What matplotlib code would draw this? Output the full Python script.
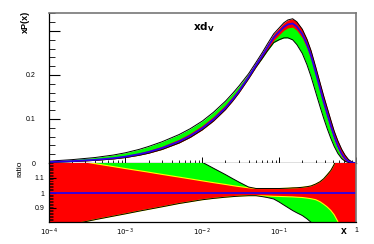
import matplotlib
matplotlib.use("Agg")
import matplotlib.pyplot as plt
import numpy as np
from matplotlib.ticker import LogLocator, MultipleLocator, NullFormatter

plt.rcParams['font.family'] = ['Liberation Sans', 'DejaVu Sans']

# x grid (momentum fraction)
x = [1e-4, 2e-4, 4e-4, 7e-4, 1e-3, 1.5e-3, 2e-3, 3e-3, 5e-3, 7e-3,
     0.01, 0.014, 0.02, 0.025, 0.03, 0.04, 0.05, 0.06, 0.07, 0.085,
     0.1, 0.115, 0.13, 0.15, 0.17, 0.2, 0.23, 0.26, 0.3, 0.34,
     0.38, 0.42, 0.47, 0.52, 0.58, 0.65, 0.72, 0.8, 0.9, 1.0]

# central xd_v
central = [0.0022, 0.0042, 0.0072, 0.011, 0.0145, 0.020, 0.025, 0.034, 0.049, 0.062,
           0.079, 0.099, 0.125, 0.145, 0.163, 0.195, 0.222, 0.243, 0.262, 0.285,
           0.298, 0.309, 0.315, 0.317, 0.310, 0.293, 0.270, 0.244, 0.205, 0.170,
           0.139, 0.113, 0.085, 0.061, 0.039, 0.021, 0.010, 0.0035, 0.0006, 0.0]

# red band, ratio to central
red_up = [1.245, 1.222, 1.196, 1.176, 1.163, 1.149, 1.139, 1.124, 1.106, 1.094,
          1.081, 1.069, 1.057, 1.049, 1.043, 1.035, 1.03, 1.03, 1.03, 1.03,
          1.03, 1.031, 1.032, 1.034, 1.035, 1.038, 1.042, 1.047, 1.06, 1.075,
          1.095, 1.12, 1.15, 1.19, 1.3, 1.5, 1.8, 2.2, 3.0, 3.0]
red_lo = [0.76, 0.79, 0.822, 0.846, 0.861, 0.879, 0.891, 0.908, 0.93, 0.942,
          0.955, 0.964, 0.972, 0.976, 0.979, 0.982, 0.982, 0.981, 0.98, 0.978,
          0.977, 0.976, 0.975, 0.974, 0.972, 0.97, 0.966, 0.962, 0.955, 0.942,
          0.925, 0.908, 0.884, 0.855, 0.81, 0.7, 0.55, 0.4, 0.2, 0.1]

# green band, ratio to central
green_up = [1.9, 1.8, 1.72, 1.65, 1.6, 1.54, 1.5, 1.42, 1.32, 1.26,
            1.205, 1.165, 1.123, 1.095, 1.073, 1.04, 1.015, 1.0, 0.993, 0.988,
            0.985, 0.983, 0.982, 0.981, 0.98, 0.978, 0.974, 0.97, 0.963, 0.95,
            0.935, 0.918, 0.895, 0.865, 0.82, 0.72, 0.57, 0.42, 0.22, 0.12]
green_lo = [0.764, 0.794, 0.826, 0.85, 0.865, 0.883, 0.895, 0.912, 0.934, 0.946,
            0.959, 0.968, 0.976, 0.98, 0.982, 0.984, 0.982, 0.976, 0.97, 0.96,
            0.94, 0.92, 0.903, 0.883, 0.868, 0.85, 0.828, 0.805, 0.78, 0.755,
            0.73, 0.7, 0.66, 0.62, 0.56, 0.48, 0.4, 0.3, 0.18, 0.1]

x = np.array(x)
c = np.array(central)
rup, rlo = np.array(red_up), np.array(red_lo)
gup, glo = np.array(green_up), np.array(green_lo)
env_up = np.maximum(rup, gup)
env_lo = np.minimum(rlo, glo)

RED = '#ff0000'
GREEN = '#00ff00'
BLUE = '#2a00e8'

fig = plt.figure(figsize=(3.74, 2.44), dpi=100)
W, H = 374, 244
L, R = 48.5, 356
ax = fig.add_axes([L / W, 1 - 163 / H, (R - L) / W, (163 - 12.5) / H])
axr = fig.add_axes([L / W, 1 - 221.5 / H, (R - L) / W, (221.5 - 163) / H])

# top panel
ax.fill_between(x, c * glo, c * gup, color=GREEN, lw=0)
ax.fill_between(x, c * rlo, c * rup, color=RED, lw=0)
ax.plot(x, c * env_up, color='black', lw=0.7)
ax.plot(x, c * env_lo, color='black', lw=0.7)
ax.plot(x, c, color=BLUE, lw=1.3)
ax.set_xscale('log')
ax.set_xlim(1e-4, 1)
ax.set_ylim(0, 0.342)

ax.yaxis.set_minor_locator(MultipleLocator(0.02))
ax.set_yticks([0, 0.1, 0.2, 0.3])
ax.set_yticklabels(['0', '0.1', '0.2', ''])
ax.tick_params(axis='y', which='major', direction='in', length=8, width=0.8, labelsize=5, pad=9)
ax.tick_params(axis='y', which='minor', direction='in', length=4, width=0.6)
ax.xaxis.set_major_locator(LogLocator(base=10, numticks=10))
ax.xaxis.set_minor_locator(LogLocator(base=10, subs=np.arange(2, 10), numticks=10))
ax.xaxis.set_minor_formatter(NullFormatter())
ax.tick_params(axis='x', which='major', direction='in', length=4, width=0.7, labelbottom=False)
ax.tick_params(axis='x', which='minor', direction='in', length=2, width=0.6)
for s in ['top', 'right']:
    ax.spines[s].set_color('#777777')
    ax.spines[s].set_linewidth(1.2)
ax.spines['left'].set_linewidth(0.9)
ax.spines['bottom'].set_linewidth(0.9)
ax.text(0.505, 0.9, r'$\mathbf{xd_{V}}$', transform=ax.transAxes, fontsize=7.5,
        ha='center', va='center')
fig.text(25 / W, 1 - 22 / H, 'xP(x)', rotation=90, fontsize=6.5,
         fontweight='bold', ha='center', va='center')

# ratio panel
axr.fill_between(x, glo, gup, color=GREEN, lw=0)
axr.fill_between(x, rlo, rup, color=RED, lw=0)
axr.plot(x, rup, color='yellow', lw=0.8)
axr.plot(x, rlo, color='yellow', lw=0.8)
axr.plot(x, env_up, color='black', lw=0.7)
axr.plot(x, env_lo, color='black', lw=0.7)
axr.plot([1e-4, 1], [1, 1], color=BLUE, lw=1.3)
axr.set_xscale('log')
axr.set_xlim(1e-4, 1)
axr.set_ylim(0.81, 1.2)
axr.set_yticks([0.9, 1.0, 1.1])
axr.set_yticklabels(['0.9', '1', '1.1'])
axr.yaxis.set_minor_locator(MultipleLocator(0.01))
axr.tick_params(axis='y', which='major', direction='in', length=5, width=0.8, labelsize=5, pad=3)
axr.tick_params(axis='y', which='minor', direction='in', length=3, width=0.5)
axr.set_xticks([1e-4, 1e-3, 1e-2, 1e-1, 1])
axr.set_xticklabels([r'$10^{-4}$', r'$10^{-3}$', r'$10^{-2}$', r'$10^{-1}$', '1'])
axr.xaxis.set_minor_locator(LogLocator(base=10, subs=np.arange(2, 10), numticks=10))
axr.xaxis.set_minor_formatter(NullFormatter())
axr.tick_params(axis='x', which='both', length=0, labelsize=5, pad=4)
axr.spines['top'].set_visible(False)
axr.spines['right'].set_color('#777777')
axr.spines['right'].set_linewidth(1.2)
axr.spines['left'].set_linewidth(0.9)
axr.spines['bottom'].set_linewidth(0.9)
fig.text(20 / W, 1 - 169 / H, 'ratio', rotation=90, fontsize=6,
         ha='center', va='center')
fig.text(344 / W, 1 - 231 / H, 'x', fontsize=7.5, fontweight='bold',
         ha='center', va='center')

fig.savefig('out.png', dpi=100)
